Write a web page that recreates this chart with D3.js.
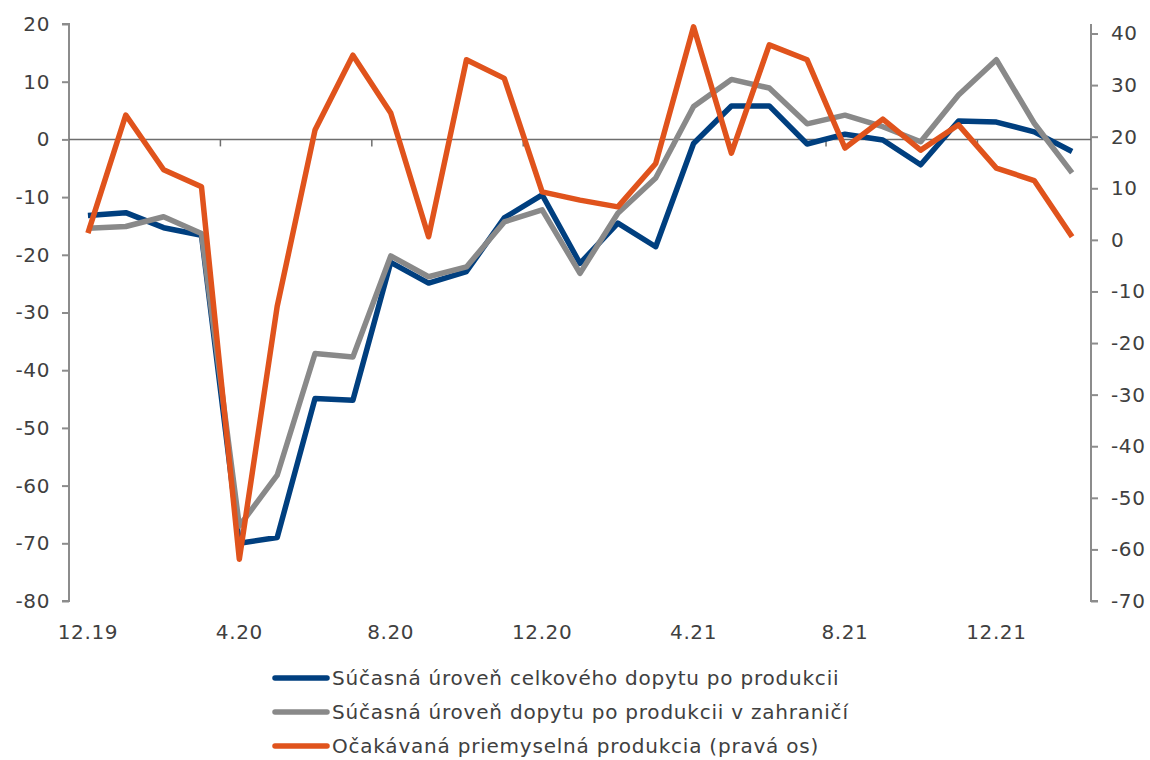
<!DOCTYPE html>
<html>
<head>
<meta charset="utf-8">
<script src="https://cdn.jsdelivr.net/npm/d3@7"></script>
<style>
  html, body { margin: 0; padding: 0; background: #fff; }
  svg { display: block; font-family: "DejaVu Sans", Verdana, sans-serif; }
</style>
</head>
<body>
<svg id="chart" width="1150" height="760"></svg>
<script>
// Months from 12.2019 to 2.2022
const months = ["12.19","1.20","2.20","3.20","4.20","5.20","6.20","7.20","8.20","9.20","10.20","11.20",
  "12.20","1.21","2.21","3.21","4.21","5.21","6.21","7.21","8.21","9.21","10.21","11.21","12.21","1.22","2.22"];

// Current level of total demand for production (left axis)
const totalDemand = [-13.2,-12.7,-15.3,-16.6,-70.0,-69.0,-44.9,-45.2,-21.3,-24.9,-22.9,-13.6,
  -9.6,-21.5,-14.5,-18.6,-0.7,5.8,5.8,-0.8,0.9,-0.1,-4.4,3.2,3.0,1.3,-2.1];

// Current level of foreign demand for production (left axis)
const foreignDemand = [-15.4,-15.1,-13.4,-16.3,-67.0,-58.2,-37.1,-37.7,-20.2,-23.8,-22.1,-14.3,
  -12.2,-23.2,-12.8,-6.7,5.7,10.4,8.9,2.7,4.2,2.2,-0.4,7.7,13.8,2.8,-5.8];

// Expected industrial production (right axis)
const expectedProduction = [1.3,24.2,13.6,10.3,-61.9,-12.9,21.3,35.8,24.6,0.6,34.9,31.3,
  9.3,7.7,6.4,14.8,41.3,16.8,37.8,34.9,17.8,23.4,17.4,22.3,13.9,11.5,0.6];

const leftTicks = [20,10,0,-10,-20,-30,-40,-50,-60,-70,-80];
const rightTicks = [40,30,20,10,0,-10,-20,-30,-40,-50,-60,-70];
const xTickLabels = ["12.19","4.20","8.20","12.20","4.21","8.21","12.21"];

const seriesNames = [
  "Súčasná úroveň celkového dopytu po produkcii",
  "Súčasná úroveň dopytu po produkcii v zahraničí",
  "Očakávaná priemyselná produkcia (pravá os)"
];
const seriesColors = ["#003f7f", "#898989", "#e0531c"];

const svg = d3.select("#chart");
const plot = { left: 69, right: 1091, top: 24, bottom: 601 };

const x = d3.scaleBand().domain(months).range([plot.left, plot.right]).padding(0);
const yL = d3.scaleLinear().domain([-80, 20]).range([plot.bottom, plot.top]);
const yR = d3.scaleLinear().domain([-70, 40]).range([plot.bottom, 33.5]);

const axisColor = "#8c8c8c";
const textColor = "#404040";
const fontSize = 20;
const spacing = "0.6px";
const plain = d => String(d);

// Left axis
const leftAxis = svg.append("g")
  .attr("transform", `translate(${plot.left},0)`)
  .call(d3.axisLeft(yL).tickValues(leftTicks).tickSize(7).tickPadding(12).tickFormat(plain));
leftAxis.select(".domain").attr("stroke", axisColor).attr("stroke-width", 2)
  .attr("d", `M-7,${plot.top}H0V${plot.bottom}H-7`);
leftAxis.selectAll(".tick line").attr("stroke", axisColor).attr("stroke-width", 2);
leftAxis.selectAll(".tick text").attr("fill", textColor).attr("font-size", fontSize)
  .attr("letter-spacing", spacing)
  .attr("font-family", "DejaVu Sans, Verdana, sans-serif");

// Right axis
const rightAxis = svg.append("g")
  .attr("transform", `translate(${plot.right},0)`)
  .call(d3.axisRight(yR).tickValues(rightTicks).tickSize(7).tickPadding(13).tickFormat(plain));
rightAxis.select(".domain").attr("stroke", axisColor).attr("stroke-width", 2)
  .attr("d", `M0,${plot.top}V${plot.bottom}H7`);
rightAxis.selectAll(".tick line").attr("stroke", axisColor).attr("stroke-width", 2);
rightAxis.selectAll(".tick text").attr("fill", textColor).attr("font-size", fontSize)
  .attr("letter-spacing", spacing)
  .attr("font-family", "DejaVu Sans, Verdana, sans-serif");

// Horizontal category axis at zero, with ticks every four months
const zeroY = yL(0);
svg.append("line")
  .attr("x1", plot.left).attr("x2", plot.right)
  .attr("y1", zeroY).attr("y2", zeroY)
  .attr("stroke", "#6e6e6e").attr("stroke-width", 1.5);
svg.append("g").selectAll("line")
  .data(xTickLabels.slice(1))
  .join("line")
  .attr("x1", d => x(d)).attr("x2", d => x(d))
  .attr("y1", zeroY).attr("y2", zeroY + 7)
  .attr("stroke", "#6e6e6e").attr("stroke-width", 1.5);

// Category labels below the plot
svg.append("g").selectAll("text")
  .data(xTickLabels)
  .join("text")
  .attr("x", d => x(d) + x.bandwidth() / 2)
  .attr("y", 632)
  .attr("dy", "0.35em")
  .attr("text-anchor", "middle")
  .attr("font-size", fontSize)
  .attr("letter-spacing", spacing)
  .attr("fill", textColor)
  .text(d => d);

// Lines
const cx = (d, i) => x(months[i]) + x.bandwidth() / 2;
const lineL = d3.line().x(cx).y(d => yL(d));
const lineR = d3.line().x(cx).y(d => yR(d));

svg.append("path").datum(totalDemand)
  .attr("d", lineL).attr("fill", "none")
  .attr("stroke", seriesColors[0]).attr("stroke-width", 5.5).attr("stroke-linejoin", "round");
svg.append("path").datum(foreignDemand)
  .attr("d", lineL).attr("fill", "none")
  .attr("stroke", seriesColors[1]).attr("stroke-width", 5.5).attr("stroke-linejoin", "round");
svg.append("path").datum(expectedProduction)
  .attr("d", lineR).attr("fill", "none")
  .attr("stroke", seriesColors[2]).attr("stroke-width", 5.5).attr("stroke-linejoin", "round");

// Legend
const legend = svg.append("g").attr("transform", "translate(273,678)");
const rows = legend.selectAll("g")
  .data(seriesNames)
  .join("g")
  .attr("transform", (d, i) => `translate(0,${i * 34})`);
rows.append("line")
  .attr("x1", 2).attr("x2", 54).attr("y1", 0).attr("y2", 0)
  .attr("stroke", (d, i) => seriesColors[i])
  .attr("stroke-width", 5.5).attr("stroke-linecap", "round");
rows.append("text")
  .attr("x", 59).attr("y", 0).attr("dy", "0.35em")
  .attr("font-size", fontSize)
  .attr("letter-spacing", "0.78px")
  .attr("fill", textColor)
  .text(d => d);
</script>
</body>
</html>
